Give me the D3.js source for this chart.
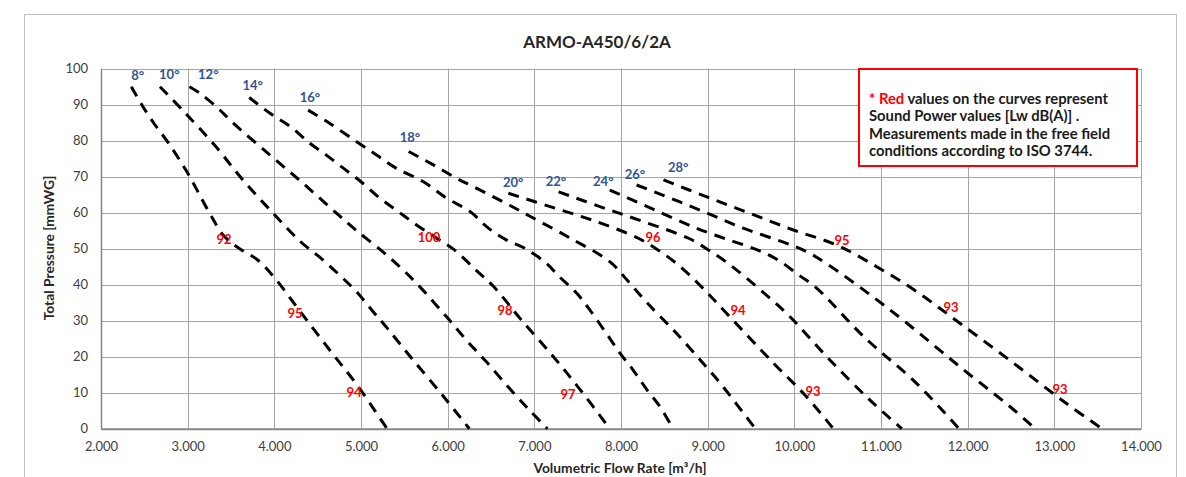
<!DOCTYPE html>
<html>
<head>
<meta charset="utf-8">
<script src="https://cdn.jsdelivr.net/npm/d3@7/dist/d3.min.js"></script>
<style>
  html, body { margin: 0; padding: 0; background: #fff; }
  svg { display: block; font-family: Lato, "Open Sans", sans-serif; }
</style>
</head>
<body>
<svg id="chart" width="1186" height="477"></svg>
<script>
// ---------- DATA ----------
const chartTitle = "ARMO-A450/6/2A";
const xTitle = "Volumetric Flow Rate  [m³/h]";
const yTitle = "Total Pressure [mmWG]";
const xTicks = [2000, 3000, 4000, 5000, 6000, 7000, 8000, 9000, 10000, 11000, 12000, 13000, 14000];
const yTicks = [0, 10, 20, 30, 40, 50, 60, 70, 80, 90, 100];

// blade angle curves: [flow m3/h, total pressure mmWG]
const curve08 = [[2350,95],[2470,90],[2620,84.5],[2780,79.3],[3000,71],[3250,60],[3420,53.5],[3600,50],[3800,47],[4000,42],[4300,32.5],[4650,21.5],[4950,12.3],[5300,0]];
const curve10 = [[2680,95],[2960,88],[3320,78.5],[3640,69],[4000,59.5],[4300,52],[4530,47.5],[4760,42.5],[4950,38],[5140,32.5],[5300,28],[5570,20],[5950,9],[6250,0]];
const curve12 = [[3020,95],[3140,93.2],[3350,89],[3530,84.8],[3950,76],[4330,68.2],[4720,59.8],[4950,55],[5260,49],[5490,44],[5680,39.4],[5990,31],[6220,24.5],[6450,18.5],[6720,11],[6950,5],[7150,0]];
const curve14 = [[3710,92],[3950,87.6],[4180,84],[4410,79.3],[4600,76],[4800,72.3],[5000,68.6],[5220,64],[5430,60.3],[5640,56.6],[5870,53],[6070,49.8],[6330,44],[6530,39.5],[6840,30.5],[7220,20],[7530,10.8],[7870,0]];
const curve16 = [[4390,88.5],[4640,84.8],[4950,79.7],[5180,76],[5410,72.3],[5720,68.6],[5990,64],[6260,60.3],[6470,55.7],[6680,52.4],[6900,50],[7140,45.9],[7290,42.2],[7490,37.6],[7640,33],[7830,26.5],[7990,20.9],[8140,16.3],[8300,10.8],[8450,6.1],[8600,0]];
const curve18 = [[5550,77],[5840,73.2],[6100,69.6],[6300,67.2],[6720,62],[6950,59],[7410,53],[7870,46.4],[8070,41.3],[8300,35],[8640,26.5],[8990,17],[9140,12.8],[9550,0]];
const curve20 = [[6700,65.4],[7220,61.4],[7720,57.5],[8200,52.9],[8430,49.6],[8660,45.5],[8930,39.4],[9220,32],[9760,18.2],[10140,8.9],[10450,0]];
const curve22 = [[7280,65.8],[7780,61.5],[8260,57.5],[8780,52.9],[9000,49.8],[9220,46.2],[9450,41.8],[9740,35.8],[9950,31.1],[10410,19.1],[10870,8],[11240,0]];
const curve24 = [[7870,66.3],[8350,61.2],[8830,56.1],[9080,53.8],[9580,49.6],[9810,46.9],[10050,42.7],[10260,39],[10800,25.6],[11410,12.6],[11900,0]];
const curve26 = [[8180,67.7],[8680,63],[9140,58.4],[9410,55.7],[9910,51.5],[10140,49.2],[10370,45.9],[10830,38],[11300,29.3],[11910,17.2],[12490,6.1],[12780,0]];
const curve28 = [[8490,69.1],[8990,64.4],[9490,59.8],[9990,55.2],[10490,51],[10950,45],[11410,38.1],[11910,29.3],[12530,18.2],[13140,7],[13550,0]];

// blade angle labels
const angleNames = ["8°","10°","12°","14°","16°","18°","20°","22°","24°","26°","28°"];
const angleX = [2423, 2788, 3238, 3750, 4411, 5565, 6757, 7250, 7796, 8161, 8661];
const angleY = [98.2, 98.6, 98.6, 95.6, 92.1, 81.1, 68.5, 68.9, 68.9, 70.7, 72.6];

// sound power labels (red)
const soundValues = ["92","95","94","100","98","97","96","94","93","95","93","93"];
const soundX = [3419, 4238, 4919, 5784, 6661, 7388, 8369, 9350, 10215, 10550, 11807, 13065];
const soundY = [52.6, 32.1, 10.1, 53.2, 33.0, 9.6, 53.3, 33.0, 10.4, 52.4, 33.9, 10.9];

const noteLines = [
  [["* Red", "#ff0000"], [" values on the curves represent", "#1a1a1a"]],
  [["Sound Power values [Lw dB(A)] .", "#1a1a1a"]],
  [["Measurements made in the free field", "#1a1a1a"]],
  [["conditions according to ISO 3744.", "#1a1a1a"]]
];

// ---------- CHART ----------
const curves = [curve08, curve10, curve12, curve14, curve16, curve18, curve20, curve22, curve24, curve26, curve28];
const svg = d3.select("#chart");

const plot = { left: 101, right: 1141, top: 68.7, bottom: 428.7 };
const x = d3.scaleLinear().domain([2000, 14000]).range([plot.left, plot.right]);
const y = d3.scaleLinear().domain([0, 100]).range([plot.bottom, plot.top]);

const locale = d3.formatLocale({ decimal: ",", thousands: ".", grouping: [3], currency: ["", ""] });
const fmt = locale.format(",");

// outer chart border
svg.append("rect")
  .attr("x", 24.5).attr("y", 14.5).attr("width", 1152).attr("height", 480)
  .attr("fill", "none").attr("stroke", "#bfbfbf").attr("stroke-width", 1);

// gridlines
const grid = svg.append("g");
grid.selectAll("line.v").data(xTicks).join("line")
  .attr("x1", d => Math.round(x(d)) + 0.5).attr("x2", d => Math.round(x(d)) + 0.5)
  .attr("y1", plot.top).attr("y2", plot.bottom)
  .attr("stroke", "#a6a6a6").attr("stroke-width", 1);
grid.selectAll("line.h").data(yTicks).join("line")
  .attr("y1", d => Math.round(y(d)) + 0.5).attr("y2", d => Math.round(y(d)) + 0.5)
  .attr("x1", plot.left).attr("x2", plot.right)
  .attr("stroke", "#a6a6a6").attr("stroke-width", 1);

// axes
const xAxis = d3.axisBottom(x).tickValues(xTicks).tickFormat(fmt).tickSize(0).tickPadding(13);
const gx = svg.append("g").attr("transform", `translate(0,${plot.bottom})`).call(xAxis);
gx.select(".domain").attr("stroke", "#868686").attr("stroke-width", 2);
gx.selectAll("text").attr("font-size", 13).attr("fill", "#404040").attr("font-family", "Lato, sans-serif");

const yAxis = d3.axisLeft(y).tickValues(yTicks).tickSize(0).tickPadding(13);
const gy = svg.append("g").attr("transform", `translate(${plot.left},0)`).call(yAxis);
gy.select(".domain").attr("stroke", "#868686").attr("stroke-width", 1.5);
gy.selectAll("text").attr("font-size", 13).attr("fill", "#404040").attr("font-family", "Lato, sans-serif");

// curves
const line = d3.line().x(d => x(d[0])).y(d => y(d[1])).curve(d3.curveCatmullRom.alpha(0.5));
svg.append("g").selectAll("path").data(curves).join("path")
  .attr("d", line)
  .attr("fill", "none")
  .attr("stroke", "#000")
  .attr("stroke-width", 3)
  .attr("stroke-dasharray", "11,8");

// angle labels
svg.append("g").selectAll("text").data(angleNames).join("text")
  .attr("x", (d, i) => x(angleX[i])).attr("y", (d, i) => y(angleY[i]))
  .attr("text-anchor", "middle").attr("dominant-baseline", "central")
  .attr("font-size", 13).attr("font-weight", "bold").attr("fill", "#2f5597")
  .text(d => d);

// sound labels
svg.append("g").selectAll("text").data(soundValues).join("text")
  .attr("x", (d, i) => x(soundX[i])).attr("y", (d, i) => y(soundY[i]))
  .attr("text-anchor", "middle").attr("dominant-baseline", "central")
  .attr("font-size", 13).attr("font-weight", "bold").attr("fill", "#ff0000")
  .text(d => d);

// title
svg.append("text").attr("x", 597).attr("y", 48).attr("text-anchor", "middle")
  .attr("font-size", 17).attr("font-weight", "bold").attr("fill", "#262626").text(chartTitle);

// axis titles
svg.append("text").attr("x", 620).attr("y", 473).attr("text-anchor", "middle")
  .attr("font-size", 13.8).attr("font-weight", "bold").attr("fill", "#262626").text(xTitle);
svg.append("text").attr("transform", "translate(54,248) rotate(-90)").attr("text-anchor", "middle")
  .attr("font-size", 13.8).attr("font-weight", "bold").attr("fill", "#262626").text(yTitle);

// note box
svg.append("rect").attr("x", 859).attr("y", 69).attr("width", 278).attr("height", 97)
  .attr("fill", "#fff").attr("stroke", "#ff0000").attr("stroke-width", 2);
const note = svg.append("g");
noteLines.forEach((parts, i) => {
  const t = note.append("text").attr("x", 869).attr("y", 104 + i * 17.3)
    .attr("font-size", 14.8).attr("font-weight", "bold");
  parts.forEach(p => t.append("tspan").attr("fill", p[1]).text(p[0]));
});
</script>
</body>
</html>
